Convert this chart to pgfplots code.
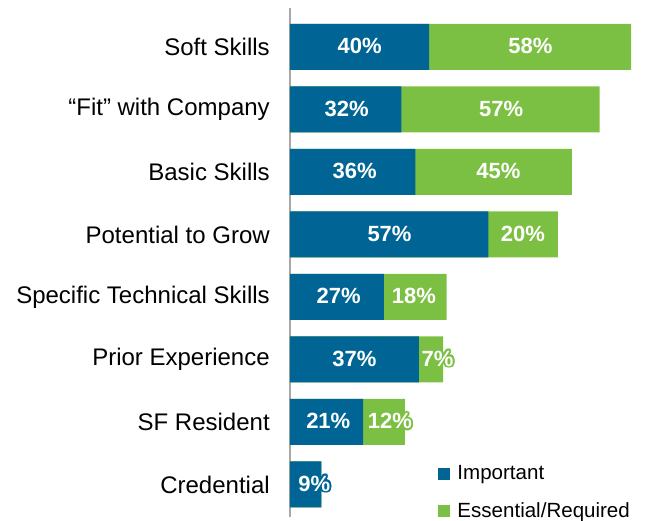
\documentclass[border=0pt]{standalone}
\usepackage{pgfplots}
\pgfplotsset{compat=1.18}
\usepackage{fontspec}
\setmainfont{Liberation Sans}
\usepackage{contour}
\contourlength{1.3pt}
\contournumber{24}
\definecolor{ibBlue}{HTML}{006594}
\definecolor{ibGreen}{HTML}{7CC043}
\definecolor{axGray}{HTML}{A8A8A8}
\begin{document}
\begin{tikzpicture}
\begin{axis}[
  at={(0,0)}, anchor=south west,
  scale only axis, width=261pt, height=381.6pt,
  xmin=0, xmax=100, ymin=-0.52, ymax=7.62,
  bar width=34.5pt,
  axis x line=none, axis y line*=left,
  y axis line style={-, draw=axGray, line width=1.1pt},
  xtick=\empty,
  ytick={0,1,2,3,4,5,6,7},
  yticklabels={Credential, SF Resident, Prior Experience, Specific Technical Skills, Potential to Grow, Basic Skills, “Fit” with Company, Soft Skills},
  major tick length=0pt,
  yticklabel style={font=\fontsize{18pt}{20pt}\selectfont, anchor=east, inner sep=0pt, xshift=-15pt},
  legend cell align=left,
  legend image code/.code={\fill[#1, draw=none] (0pt,-4.5pt) rectangle (9pt,4.5pt);},
  legend style={at={(axis cs:42.5,0.2)}, anchor=north west, yshift=6pt, draw=none, fill=none, inner sep=0pt,
    font=\fontsize{15.4pt}{17pt}\selectfont, row sep=13.5pt, column sep=4.5pt,
    nodes={inner sep=1pt, anchor=west}},
]
% Essential/Required drawn as the full bar (Important + Essential), Important on top
\addplot[xbar, bar shift=0pt, fill=ibGreen, draw=none, forget plot] coordinates {
  (9,0) (33,1) (44,2) (45,3) (77,4) (81,5) (89,6) (98,7)
};
\addplot[xbar, bar shift=0pt, fill=ibBlue, draw=none] coordinates {
  (9,0) (21,1) (37,2) (27,3) (57,4) (36,5) (32,6) (40,7)
};
\addlegendentry{Important}
\addlegendimage{fill=ibGreen}
\addlegendentry{Essential/Required}
% labels, Important
\addplot[draw=none, mark=none, forget plot, point meta=explicit symbolic,
  nodes near coords={\contour{ibBlue}{\pgfplotspointmeta}},
  nodes near coords style={anchor=center, text=white, font=\fontsize{16.5pt}{18pt}\selectfont\bfseries}] coordinates {
  (7.0,0) [9\%]
  (11.0,1) [21\%]
  (18.5,2) [37\%]
  (14,3) [27\%]
  (28.6,4) [57\%]
  (18.6,5) [36\%]
  (16.3,6) [32\%]
  (20,7) [40\%]
};
% labels, Essential/Required
\addplot[draw=none, mark=none, forget plot, point meta=explicit symbolic,
  nodes near coords={\contour{ibGreen}{\pgfplotspointmeta}},
  nodes near coords style={anchor=center, text=white, font=\fontsize{16.5pt}{18pt}\selectfont\bfseries}] coordinates {
  (28.7,1) [12\%]
  (42.4,2) [7\%]
  (35.6,3) [18\%]
  (66.9,4) [20\%]
  (59.9,5) [45\%]
  (60.7,6) [57\%]
  (69.1,7) [58\%]
};
\end{axis}
\pgfresetboundingbox
\path (-217.5pt,-3pt) rectangle (267pt,387.75pt);
\end{tikzpicture}
\end{document}
